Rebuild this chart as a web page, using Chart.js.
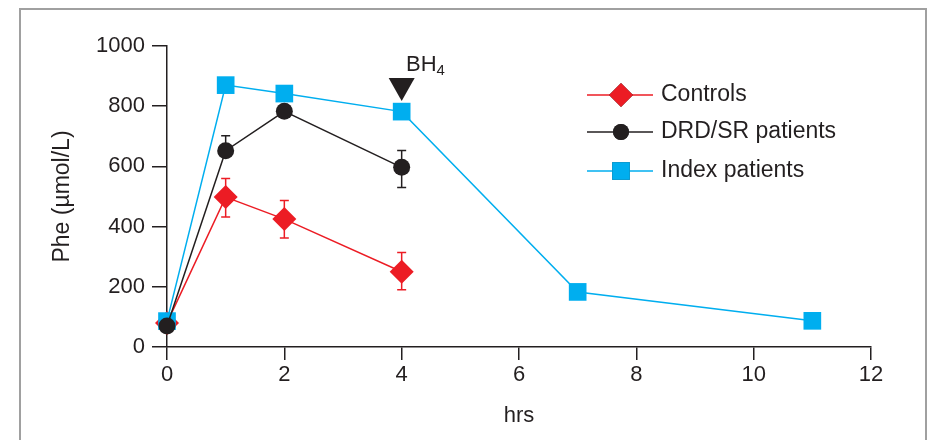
<!DOCTYPE html>
<html>
<head>
<meta charset="utf-8">
<script src="https://cdn.jsdelivr.net/npm/chart.js@4/dist/chart.umd.min.js"></script>
<style>
  html, body { margin: 0; padding: 0; background: #fff; }
  #wrap { width: 929px; height: 440px; position: relative; }
</style>
</head>
<body>
<div id="wrap"><canvas id="pheChart" width="929" height="440"></canvas></div>
<script>
// Phe loading test
const controlsHrs = [0, 1, 2, 4];
const controlsPhe = [80, 498, 425, 250];
const controlsErrUp = [0, 62, 62, 64];
const controlsErrDown = [0, 66, 63, 60];

const drdHrs = [0, 1, 2, 4];
const drdPhe = [70, 652, 783, 597];
const drdErrUp = [0, 50, 0, 56];
const drdErrDown = [0, 0, 0, 67];

const indexHrs = [0, 1, 2, 4, 7, 11];
const indexPhe = [86, 870, 842, 782, 183, 87];

const xTicks = [0, 2, 4, 6, 8, 10, 12];
const yTicks = [0, 200, 400, 600, 800, 1000];

const bh4Hr = 4;

const RED = '#ec1c24', BLACK = '#231f20', BLUE = '#00aeef', TEXT = '#231f20';
const FONT = '"Liberation Sans", Arial, Helvetica, sans-serif';

function pts(xs, ys) { return xs.map((x, i) => ({ x: x, y: ys[i] })); }

const legendItems = [
    { label: 'Controls', color: RED, style: 'rectRot', r: 12 },
    { label: 'DRD/SR patients', color: BLACK, style: 'circle', r: 8 },
    { label: 'Index patients', color: BLUE, style: 'rect', r: 12.5 }
];

const extras = {
    id: 'extras',
    beforeDraw(chart) {
        const ctx = chart.ctx;
        ctx.save();
        ctx.fillStyle = '#fff';
        ctx.fillRect(0, 0, chart.width, chart.height);
        // grey frame around the figure
        ctx.strokeStyle = '#a0a0a0';
        ctx.lineWidth = 2;
        ctx.beginPath();
        ctx.moveTo(20, 440);
        ctx.lineTo(20, 9);
        ctx.lineTo(926, 9);
        ctx.lineTo(926, 440);
        ctx.stroke();
        ctx.restore();
    },
    beforeDatasetsDraw(chart) {
        const ctx = chart.ctx, xs = chart.scales.x, ys = chart.scales.y;
        const bars = [
            [controlsHrs, controlsPhe, controlsErrUp, controlsErrDown, RED],
            [drdHrs, drdPhe, drdErrUp, drdErrDown, BLACK]
        ];
        ctx.save();
        ctx.lineWidth = 1.5;
        bars.forEach(([hx, v, up, dn, col]) => {
            ctx.strokeStyle = col;
            hx.forEach((h, i) => {
                const px = xs.getPixelForValue(h);
                const py = ys.getPixelForValue(v[i]);
                [[up[i], 1], [dn[i], -1]].forEach(([e, s]) => {
                    if (!e) return;
                    const ey = ys.getPixelForValue(v[i] + s * e);
                    ctx.beginPath();
                    ctx.moveTo(px, py);
                    ctx.lineTo(px, ey);
                    ctx.moveTo(px - 4.5, ey);
                    ctx.lineTo(px + 4.5, ey);
                    ctx.stroke();
                });
            });
        });
        ctx.restore();
    },
    afterDraw(chart) {
        const ctx = chart.ctx, xs = chart.scales.x;
        ctx.save();
        // BH4 arrow
        const tx = xs.getPixelForValue(bh4Hr);
        ctx.fillStyle = BLACK;
        ctx.beginPath();
        ctx.moveTo(tx - 13, 78);
        ctx.lineTo(tx + 13, 78);
        ctx.lineTo(tx, 101);
        ctx.closePath();
        ctx.fill();
        ctx.fillStyle = TEXT;
        ctx.textBaseline = 'alphabetic';
        ctx.textAlign = 'left';
        ctx.font = '22px ' + FONT;
        ctx.fillText('BH', 406, 71);
        const w = ctx.measureText('BH').width;
        ctx.font = '15px ' + FONT;
        ctx.fillText('4', 406 + w, 75);

        // legend
        const rows = [95, 132, 171];
        legendItems.forEach((it, i) => {
            const y = rows[i];
            ctx.strokeStyle = it.color;
            ctx.lineWidth = 1.5;
            ctx.beginPath();
            ctx.moveTo(587, y);
            ctx.lineTo(653, y);
            ctx.stroke();
            Chart.helpers.drawPoint(ctx, { pointStyle: it.style, radius: it.r, borderWidth: 0 }, 621, y);
            ctx.fillStyle = it.color;
            ctx.fill();
            ctx.fillStyle = TEXT;
            ctx.font = '23px ' + FONT;
            ctx.textBaseline = 'middle';
            ctx.fillText(it.label, 661, y);
        });
        ctx.restore();
    }
};

const ctx = document.getElementById('pheChart').getContext('2d');
const myChart = new Chart(ctx, {
    type: 'line',
    data: {
        datasets: [{
            label: 'Controls',
            data: pts(controlsHrs, controlsPhe),
            borderColor: RED,
            backgroundColor: RED,
            borderWidth: 1.5,
            pointStyle: 'rectRot',
            pointRadius: 12,
            pointBorderWidth: 0,
            clip: false,
            order: 2
        }, {
            label: 'DRD/SR patients',
            data: pts(drdHrs, drdPhe),
            borderColor: BLACK,
            backgroundColor: BLACK,
            borderWidth: 1.5,
            pointStyle: 'circle',
            pointRadius: 8.5,
            pointBorderWidth: 0,
            clip: false,
            order: 0
        }, {
            label: 'Index patients',
            data: pts(indexHrs, indexPhe),
            borderColor: BLUE,
            backgroundColor: BLUE,
            borderWidth: 1.5,
            pointStyle: 'rect',
            pointRadius: 12.5,
            pointBorderWidth: 0,
            clip: false,
            order: 1
        }]
    },
    options: {
        responsive: false,
        animation: false,
        events: [],
        layout: { padding: { left: 0, right: 58, top: 46, bottom: 0 } },
        plugins: { legend: { display: false }, tooltip: { enabled: false } },
        scales: {
            x: {
                type: 'linear',
                min: 0, max: 12,
                afterFit(s) { s.height = 93; },
                afterBuildTicks(s) { s.ticks = xTicks.map(v => ({ value: v })); },
                grid: { drawOnChartArea: false, color: BLACK, lineWidth: 1.5, tickLength: 13 },
                border: { color: BLACK, width: 1.5 },
                ticks: { color: TEXT, font: { family: FONT, size: 22 }, padding: 2, maxRotation: 0,
                         callback: v => String(v) },
                title: { display: true, text: 'hrs', color: TEXT, font: { family: FONT, size: 22 }, padding: { bottom: 11 } }
            },
            y: {
                min: 0, max: 1000,
                afterFit(s) { s.width = 167; },
                afterBuildTicks(s) { s.ticks = yTicks.map(v => ({ value: v })); },
                grid: { drawOnChartArea: false, color: BLACK, lineWidth: 1.5, tickLength: 15 },
                border: { color: BLACK, width: 1.5 },
                ticks: { color: TEXT, font: { family: FONT, size: 22 }, padding: 7,
                          callback: v => String(v) },
                title: { display: true, text: 'Phe (µmol/L)', color: TEXT, font: { family: FONT, size: 23 }, padding: { top: 49 } }
            }
        }
    },
    plugins: [extras]
});
</script>
</body>
</html>
